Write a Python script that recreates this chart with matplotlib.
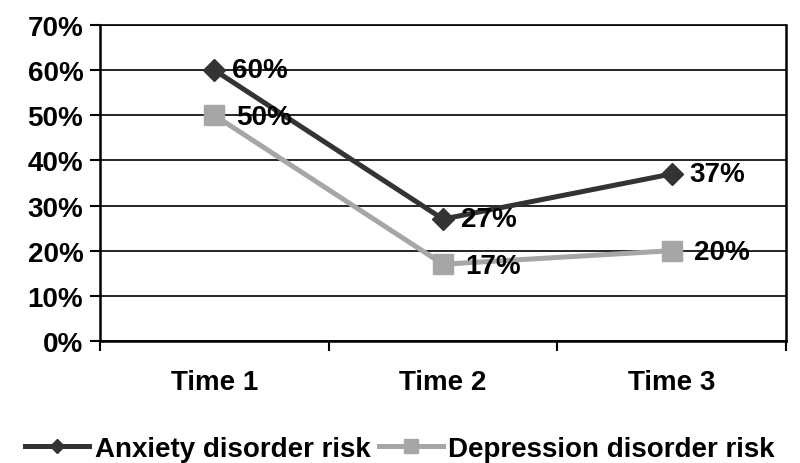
import matplotlib.pyplot as plt
from matplotlib.ticker import PercentFormatter, FixedLocator

plt.rcParams['font.family'] = ['Liberation Sans', 'DejaVu Sans']
plt.rcParams['font.weight'] = 'bold'

times = ["Time 1", "Time 2", "Time 3"]
anxiety = [60, 27, 37]
depression = [50, 17, 20]

fig = plt.figure(figsize=(8, 4.64), dpi=100)
ax = fig.add_axes([0.125, 0.263, 0.8575, 0.681])

x = list(range(len(times)))
ax.plot(x, anxiety, color="#333333", lw=3.6, marker="D", ms=11,
        label="Anxiety disorder risk", zorder=4)
ax.plot(x, depression, color="#a6a6a6", lw=3.6, marker="s", ms=15,
        label="Depression disorder risk", zorder=3)

for xi, v in zip(x, anxiety):
    ax.annotate(f"{v}%", (xi, v), xytext=(13, 0), textcoords="offset points",
                ha="left", va="center", fontsize=20, fontweight="bold", zorder=5)
for xi, v in zip(x, depression):
    ax.annotate(f"{v}%", (xi, v), xytext=(16, -1), textcoords="offset points",
                ha="left", va="center", fontsize=20, fontweight="bold", zorder=5)

ax.set_xlim(-0.5, 2.5)
ax.set_ylim(0, 70)
ax.set_yticks(range(0, 71, 10))
ax.yaxis.set_major_formatter(PercentFormatter(decimals=0))
ax.grid(axis="y", color="black", lw=1.2, zorder=0)

ax.set_xticks(x)
ax.set_xticklabels(times)
ax.xaxis.set_minor_locator(FixedLocator([-0.5, 0.5, 1.5, 2.5]))
ax.tick_params(axis="x", which="major", length=0, pad=20, labelsize=20)
ax.tick_params(axis="x", which="minor", length=7, width=1.5, direction="out")
ax.tick_params(axis="y", length=7, width=1.5, pad=5, labelsize=20)

for side in ["left", "bottom", "right", "top"]:
    ax.spines[side].set_linewidth(1.8)
    ax.spines[side].set_color("black")
ax.spines["top"].set_linewidth(1.2)

fig.legend(loc="center", bbox_to_anchor=(0.5, 0.03), ncol=2, frameon=False,
           fontsize=20, handlelength=2.3, handletextpad=0.2, columnspacing=0.3,
           markerscale=0.65, borderaxespad=0)

fig.savefig("out.png", dpi=100)
